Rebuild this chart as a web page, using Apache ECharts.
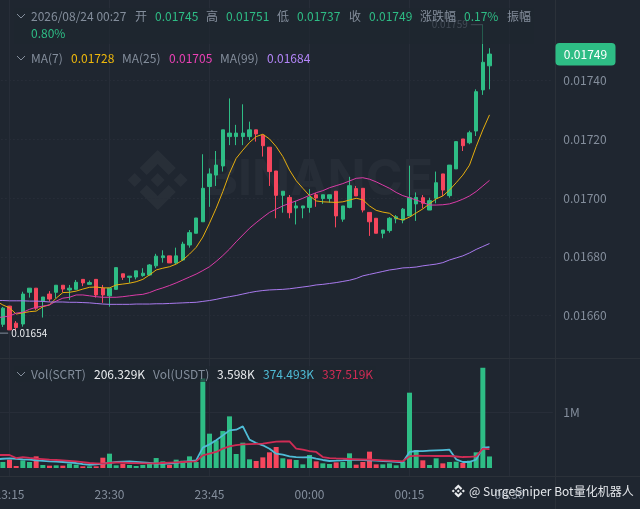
<!DOCTYPE html>
<html><head><meta charset="utf-8">
<style>html,body{margin:0;padding:0;background:#1f2630}#c{width:640px;height:509px}</style>
<script src="https://cdn.jsdelivr.net/npm/echarts@6/dist/echarts.min.js"></script>
</head><body><div id="c"></div>
<script>
const categories = ['23:13','23:14','23:15','23:16','23:17','23:18','23:19','23:20','23:21','23:22','23:23','23:24','23:25','23:26','23:27','23:28','23:29','23:30','23:31','23:32','23:33','23:34','23:35','23:36','23:37','23:38','23:39','23:40','23:41','23:42','23:43','23:44','23:45','23:46','23:47','23:48','23:49','23:50','23:51','23:52','23:53','23:54','23:55','23:56','23:57','23:58','23:59','00:00','00:01','00:02','00:03','00:04','00:05','00:06','00:07','00:08','00:09','00:10','00:11','00:12','00:13','00:14','00:15','00:16','00:17','00:18','00:19','00:20','00:21','00:22','00:23','00:24','00:25','00:26','00:27','00:28','00:29','00:30','00:31','00:32','00:33','00:34','00:35','00:36'];
const tickLabels = ['23:15','23:30','23:45','00:00','00:15','00:30'];
const opens = [0.016636,0.016570,0.016632,0.016574,0.016571,0.016679,0.016693,0.016649,0.016673,0.016679,
0.016703,0.016687,0.016689,0.016723,0.016706,0.016723,0.016693,0.016667,0.016689,0.016742,
0.016730,0.016731,0.016736,0.016738,0.016769,0.016797,0.016803,0.016779,0.016789,0.016840,
0.016880,0.016919,0.017039,0.017078,0.017109,0.017209,0.017209,0.017209,0.017209,0.017232,
0.017214,0.017173,0.017092,0.017009,0.017002,0.016966,0.016966,0.016968,0.017011,0.016998,
0.016998,0.017023,0.016928,0.016968,0.017032,0.017033,0.016951,0.016931,0.016880,0.016889,
0.016929,0.016925,0.016939,0.016980,0.017001,0.016959,0.016999,0.017082,0.017008,0.017099,
0.017201,0.017188,0.017228,0.017368,0.017450];
const closes = [0.016578,0.016625,0.016551,0.016559,0.016673,0.016693,0.016625,0.016663,0.016656,0.016703,
0.016690,0.016693,0.016713,0.016711,0.016712,0.016670,0.016670,0.016693,0.016763,0.016730,
0.016734,0.016752,0.016744,0.016772,0.016802,0.016803,0.016779,0.016803,0.016843,0.016882,
0.016932,0.017033,0.017082,0.017112,0.017232,0.017221,0.017221,0.017221,0.017232,0.017218,
0.017178,0.017090,0.017009,0.017023,0.016950,0.016973,0.016973,0.017002,0.017000,0.017011,
0.017011,0.016939,0.016973,0.017042,0.017007,0.016959,0.016919,0.016880,0.016891,0.016931,
0.016936,0.016962,0.017001,0.017002,0.016982,0.016991,0.017052,0.017027,0.017112,0.017192,
0.017178,0.017222,0.017362,0.017462,0.017490];
const lows = [0.016540,0.016561,0.016551,0.016547,0.016562,0.016661,0.016619,0.016593,0.016647,0.016659,
0.016679,0.016653,0.016689,0.016700,0.016706,0.016661,0.016643,0.016630,0.016689,0.016721,
0.016711,0.016723,0.016732,0.016736,0.016761,0.016780,0.016779,0.016775,0.016786,0.016831,
0.016880,0.016919,0.016970,0.017041,0.017090,0.017180,0.017180,0.017180,0.017197,0.017192,
0.017141,0.017041,0.016931,0.016950,0.016931,0.016910,0.016931,0.016950,0.016970,0.016980,
0.016984,0.016900,0.016919,0.016965,0.017007,0.016951,0.016871,0.016880,0.016863,0.016882,
0.016914,0.016914,0.016939,0.016922,0.016965,0.016959,0.016982,0.017007,0.017001,0.017099,
0.017160,0.017183,0.017211,0.017351,0.017370];
const highs = [0.016653,0.016629,0.016632,0.016581,0.016681,0.016693,0.016693,0.016663,0.016683,0.016703,
0.016703,0.016704,0.016721,0.016723,0.016719,0.016723,0.016704,0.016693,0.016763,0.016742,
0.016734,0.016752,0.016761,0.016775,0.016810,0.016822,0.016803,0.016831,0.016851,0.016891,
0.016932,0.017149,0.017101,0.017160,0.017232,0.017339,0.017249,0.017319,0.017260,0.017232,
0.017214,0.017173,0.017092,0.017023,0.017010,0.016990,0.016973,0.017030,0.017017,0.017011,
0.017011,0.017023,0.016973,0.017072,0.017041,0.017033,0.016951,0.016931,0.016891,0.016935,
0.016942,0.016966,0.017110,0.017019,0.017010,0.017001,0.017090,0.017082,0.017112,0.017192,
0.017201,0.017229,0.017370,0.017590,0.017510];
const ma7 = [0.016649,0.016636,0.016626,0.016605,0.016609,0.016613,0.016615,0.016630,0.016636,0.016659,
0.016678,0.016679,0.016683,0.016690,0.016696,0.016697,0.016694,0.016694,0.016704,0.016707,
0.016710,0.016715,0.016723,0.016738,0.016755,0.016761,0.016766,0.016775,0.016789,0.016809,
0.016832,0.016867,0.016914,0.016965,0.017022,0.017084,0.017135,0.017163,0.017189,0.017209,
0.017217,0.017201,0.017175,0.017141,0.017095,0.017059,0.017033,0.017008,0.016990,0.016987,
0.016986,0.016985,0.016987,0.016993,0.016999,0.016994,0.016973,0.016958,0.016952,0.016948,
0.016931,0.016925,0.016935,0.016949,0.016963,0.016980,0.016997,0.017007,0.017027,0.017052,
0.017078,0.017112,0.017175,0.017232,0.017283];
const ma25 = [0.016592,0.016595,0.016598,0.016608,0.016611,0.016621,0.016628,0.016632,0.016636,0.016649,
0.016659,0.016662,0.016670,0.016670,0.016667,0.016664,0.016662,0.016662,0.016662,0.016664,
0.016667,0.016670,0.016672,0.016678,0.016687,0.016694,0.016702,0.016711,0.016721,0.016731,
0.016741,0.016753,0.016766,0.016784,0.016804,0.016826,0.016851,0.016874,0.016897,0.016916,
0.016934,0.016951,0.016962,0.016973,0.016982,0.016990,0.016999,0.017009,0.017018,0.017025,
0.017035,0.017042,0.017049,0.017058,0.017067,0.017069,0.017064,0.017055,0.017044,0.017033,
0.017019,0.017008,0.017001,0.016993,0.016985,0.016976,0.016976,0.016977,0.016980,0.016987,
0.016996,0.017007,0.017022,0.017041,0.017060];
const ma99 = [0.016651,0.016651,0.016650,0.016650,0.016650,0.016649,0.016649,0.016648,0.016646,0.016646,
0.016646,0.016645,0.016645,0.016644,0.016643,0.016641,0.016639,0.016638,0.016638,0.016638,
0.016638,0.016639,0.016639,0.016639,0.016640,0.016640,0.016641,0.016642,0.016643,0.016644,
0.016645,0.016648,0.016651,0.016655,0.016660,0.016664,0.016668,0.016673,0.016678,0.016682,
0.016685,0.016687,0.016688,0.016689,0.016691,0.016694,0.016697,0.016700,0.016704,0.016706,
0.016709,0.016712,0.016716,0.016720,0.016726,0.016735,0.016740,0.016745,0.016750,0.016755,
0.016758,0.016762,0.016763,0.016765,0.016769,0.016772,0.016775,0.016780,0.016789,0.016796,
0.016803,0.016813,0.016825,0.016835,0.016845];
const volumes = [100000,107000,149000,36000,137000,107000,208000,54000,42000,48000,
42000,77000,60000,30000,30000,30000,184000,256000,48000,77000,
54000,36000,54000,77000,178000,119000,54000,149000,131000,208000,
107000,1600000,613000,494000,660000,922000,250000,452000,155000,125000,
190000,280000,375000,173000,155000,143000,65000,232000,119000,83000,
71000,101000,107000,262000,60000,107000,292000,65000,65000,83000,
48000,113000,1345000,321000,137000,54000,173000,83000,107000,113000,
89000,131000,280000,1790000,206000];
const volMaA = [155000,165000,173000,165000,155000,148000,137000,128000,119000,113000,
107000,98000,89000,71000,54000,65000,77000,92000,107000,113000,
119000,110000,101000,89000,77000,77000,77000,92000,107000,122000,
137000,363000,422000,494000,583000,672000,684000,744000,506000,446000,
405000,345000,256000,238000,208000,196000,190000,196000,167000,143000,
125000,130000,137000,145000,149000,143000,137000,130000,125000,119000,
110000,101000,286000,303000,303000,309000,315000,321000,327000,155000,
107000,107000,149000,363000,374000];
const volMaB = [232000,232000,232000,178000,196000,181000,167000,158000,149000,143000,
137000,128000,119000,104000,89000,83000,77000,89000,101000,95000,
89000,86000,83000,83000,83000,89000,95000,101000,107000,113000,
119000,226000,256000,286000,345000,387000,410000,422000,428000,431000,
434000,452000,470000,473000,476000,345000,327000,303000,286000,196000,
178000,172000,167000,161000,155000,152000,149000,143000,137000,131000,
125000,119000,208000,220000,217000,215000,214000,214000,214000,205000,
196000,200000,208000,345000,338000];

const UP='#2EBD85',DOWN='#F6465D',GREY='#848E9C',BG='#1f2630',LINE='#2b3139',GRID='#272d38',WHITE='#EAECEF';
const FONT='"Noto Sans CJK SC","Noto Sans",sans-serif';
const candleData = opens.map((o,i)=>[o,closes[i],lows[i],highs[i]]);
const volData = volumes.map((v,i)=>({value:v,itemStyle:{color:closes[i]>=opens[i]?UP:DOWN}}));
const isTick = (i)=>tickLabels.includes(categories[i]);
const lowIdx = lows.indexOf(Math.min(...lows)), highIdx = highs.indexOf(Math.max(...highs));

const legendTexts = [
 ['2026/08/24 00:27',31,16,GREY],['开',135,16,GREY],['0.01745',155,16,UP],['高',206,16,GREY],['0.01751',226,16,UP],
 ['低',277,16,GREY],['0.01737',297,16,UP],['收',349,16,GREY],['0.01749',369,16,UP],['涨跌幅',420,16,GREY],
 ['0.17%',464,16,UP],['振幅',507,16,GREY],['0.80%',31,33,UP],
 ['MA(7)',31,58,GREY],['0.01728',71,58,'#F0B90B'],['MA(25)',122,58,GREY],['0.01705',169,58,'#EB40B5'],
 ['MA(99)',220,58,GREY],['0.01684',267,58,'#B385F8'],
 ['Vol(SCRT)',31,374,GREY],['206.329K',94,374,WHITE],['Vol(USDT)',153,374,GREY],['3.598K',217,374,WHITE],
 ['374.493K',263,374,'#4FBCD6'],['337.519K',322,374,'#D02C55']
];
const txt=(s,x,y,fill,extra)=>({type:'text',x,y,z:30,silent:true,style:Object.assign({text:s,fill,font:'12px '+FONT,textVerticalAlign:'middle'},extra||{})});
const chevron=(y)=>({type:'polyline',z:30,silent:true,shape:{points:[[17,y],[21,y+4],[25,y]]},style:{stroke:GREY,fill:null,lineWidth:1}});
const logo=(cx,cy,s,fill,z,opacity)=>{
 const P=(pts)=>({type:'polygon',z,silent:true,shape:{points:pts.map(p=>[cx+p[0]*s,cy+p[1]*s])},style:{fill,opacity}});
 return [
  P([[0,-30],[18,-12],[11,-5],[0,-16],[-11,-5],[-18,-12]]),
  P([[0,30],[18,12],[11,5],[0,16],[-11,5],[-18,12]]),
  P([[0,-7],[7,0],[0,7],[-7,0]]),
  P([[-23,-7],[-16,0],[-23,7],[-30,0]]),
  P([[23,-7],[30,0],[23,7],[16,0]])
 ];
};
const graphics = [
 ...logo(157.7,180,1,'rgba(255,255,255,0.045)',-1,1),
 {type:'text',x:205,y:180,z:-1,silent:true,style:{text:'BINANCE',fill:'rgba(255,255,255,0.035)',font:'bold 50px Inter,'+FONT,textVerticalAlign:'middle'}},
 {type:'line',z:1,silent:true,shape:{x1:0,y1:358.5,x2:640,y2:358.5},style:{stroke:LINE,lineWidth:1}},
 {type:'line',z:1,silent:true,shape:{x1:0,y1:476.5,x2:640,y2:476.5},style:{stroke:LINE,lineWidth:1}},
 {type:'line',z:1,silent:true,shape:{x1:555.5,y1:0,x2:555.5,y2:509},style:{stroke:LINE,lineWidth:1}},
 {type:'rect',z:20,silent:true,shape:{x:14,y:8,width:520,height:36},style:{fill:'rgba(31,38,48,0.65)'}},
 {type:'rect',z:20,silent:true,shape:{x:14,y:366,width:362,height:16},style:{fill:'rgba(31,38,48,0.65)'}},
 chevron(14),chevron(56),chevron(372),
 ...legendTexts.map(t=>txt(t[0],t[1],t[2],t[3])),
 {type:'rect',z:25,silent:true,shape:{x:555.5,y:43,width:60,height:22.5,r:4},style:{fill:UP}},
 txt('0.01749',585.5,54.5,'#ffffff',{textAlign:'center'}),
 ...logo(458.3,491,0.22,'#EAECEF',30,1),
 txt('@ SurgeSniper Bot量化机器人',469,491.5,'#E4E7EB',{font:'12px '+FONT})
];
const xBase={type:'category',data:categories,boundaryGap:true};
const gx={left:-7.17,width:560,containLabel:false,outerBoundsMode:'none'};
const option={
 backgroundColor:BG,animation:false,
 textStyle:{fontFamily:FONT},
 grid:[
  Object.assign({top:0,height:476.5},gx),
  Object.assign({top:21.75,height:352.5},gx),
  Object.assign({top:356,height:112},gx)
 ],
 xAxis:[
  Object.assign({},xBase,{gridIndex:0,axisLine:{show:false},axisTick:{show:false},axisLabel:{show:false},
    splitLine:{show:true,alignWithLabel:true,interval:isTick,lineStyle:{color:GRID,width:1}}}),
  Object.assign({},xBase,{gridIndex:1,axisLine:{show:false},axisTick:{show:false},axisLabel:{show:false},splitLine:{show:false}}),
  Object.assign({},xBase,{gridIndex:2,axisLine:{show:false},axisTick:{show:false},splitLine:{show:false},
    axisLabel:{show:true,interval:isTick,color:GREY,fontSize:12,margin:20,fontFamily:FONT,hideOverlap:false}})
 ],
 yAxis:[
  {type:'value',gridIndex:0,min:0,max:1,show:false,splitLine:{show:false}},
  {type:'value',gridIndex:1,position:'right',min:0.0164,max:0.0176,interval:0.0002,scale:true,
   axisLine:{show:false},axisTick:{show:false},
   axisLabel:{color:GREY,fontSize:12,margin:10.5,fontFamily:FONT,showMinLabel:false,showMaxLabel:false,formatter:v=>v.toFixed(5)},
   splitLine:{show:true,showMinLine:false,showMaxLine:false,lineStyle:{color:GRID,width:1,type:[2,2]}}},
  {type:'value',gridIndex:2,position:'right',min:0,max:2000000,interval:1000000,
   axisLine:{show:false},axisTick:{show:false},
   axisLabel:{color:GREY,fontSize:12,margin:10.5,fontFamily:FONT,showMinLabel:false,showMaxLabel:false,formatter:v=>(v/1e6)+'M'},
   splitLine:{show:true,showMinLine:false,showMaxLine:false,lineStyle:{color:GRID,width:1}}}
 ],
 series:[
  {type:'candlestick',name:'K',xAxisIndex:1,yAxisIndex:1,data:candleData,barWidth:4,z:3,
   itemStyle:{color:UP,color0:DOWN,borderColor:UP,borderColor0:DOWN,borderWidth:1},
   markPoint:{silent:true,animation:false,data:[
     {coord:[categories[highIdx],highs[highIdx]],symbol:'rect',symbolSize:[12,1],symbolOffset:[-6,0],
      itemStyle:{color:GREY},label:{show:true,position:'left',distance:3,color:GREY,fontSize:10,fontFamily:FONT,formatter:highs[highIdx].toFixed(5)}},
     {coord:[categories[lowIdx],lows[lowIdx]],symbol:'rect',symbolSize:[12,1],symbolOffset:[6,0],
      itemStyle:{color:GREY},label:{show:true,position:'right',distance:3,color:WHITE,fontSize:10,fontFamily:FONT,formatter:lows[lowIdx].toFixed(5)}}
   ]}},
  {type:'line',name:'MA7',xAxisIndex:1,yAxisIndex:1,data:ma7,showSymbol:false,z:4,lineStyle:{color:'#E6AE0E',width:1}},
  {type:'line',name:'MA25',xAxisIndex:1,yAxisIndex:1,data:ma25,showSymbol:false,z:4,lineStyle:{color:'#DB3CA8',width:1}},
  {type:'line',name:'MA99',xAxisIndex:1,yAxisIndex:1,data:ma99,showSymbol:false,z:4,lineStyle:{color:'#A97AEE',width:1}},
  {type:'bar',name:'Vol',xAxisIndex:2,yAxisIndex:2,data:volData,barWidth:5,z:3},
  {type:'line',name:'VolMA1',xAxisIndex:2,yAxisIndex:2,data:volMaA,showSymbol:false,z:4,lineStyle:{color:'#4FBCD6',width:1.8}},
  {type:'line',name:'VolMA2',xAxisIndex:2,yAxisIndex:2,data:volMaB,showSymbol:false,z:4,lineStyle:{color:'#D02C55',width:1.8}}
 ],
 graphic:graphics
};
const chart=echarts.init(document.getElementById('c'),null,{renderer:'canvas'});
chart.setOption(option);
</script></body></html>
